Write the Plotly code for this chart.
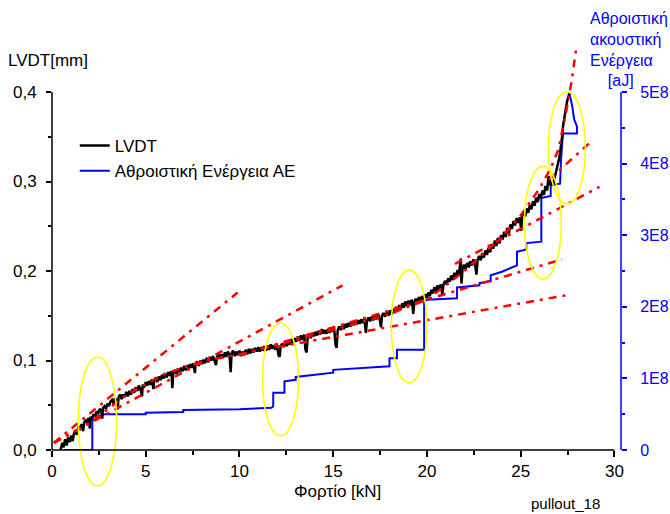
import plotly.graph_objects as go

# ---- LVDT displacement [mm] vs load [kN], (load, displacement) pairs ----
lvdt_points = [
    (0.45, 0.000), (0.55, 0.008), (0.62, 0.003), (0.70, 0.012), (0.78, 0.005), (0.86, 0.014),
    (0.95, 0.009), (1.02, 0.016), (1.10, 0.010), (1.18, 0.019), (1.26, 0.022), (1.33, 0.017),
    (1.41, 0.026), (1.50, 0.024), (1.58, 0.029), (1.66, 0.021), (1.72, 0.031), (1.80, 0.033),
    (1.88, 0.030), (1.95, 0.036), (2.02, 0.024), (2.06, 0.037), (2.14, 0.035), (2.22, 0.040),
    (2.30, 0.038), (2.38, 0.043), (2.46, 0.041), (2.55, 0.046), (2.62, 0.044), (2.68, 0.035),
    (2.72, 0.047), (2.80, 0.049), (2.88, 0.046), (2.96, 0.052),
    (3.04, 0.049), (3.12, 0.054), (3.20, 0.056), (3.28, 0.052), (3.36, 0.058), (3.44, 0.055),
    (3.50, 0.045), (3.55, 0.059), (3.63, 0.062), (3.71, 0.057), (3.80, 0.062), (3.88, 0.059),
    (3.96, 0.065), (4.05, 0.060), (4.13, 0.066), (4.21, 0.062), (4.30, 0.068), (4.38, 0.064),
    (4.46, 0.070), (4.55, 0.066), (4.63, 0.072), (4.72, 0.068), (4.80, 0.060), (4.84, 0.073),
    (4.92, 0.070), (5.00, 0.076), (5.08, 0.072), (5.17, 0.077), (5.25, 0.073), (5.33, 0.079),
    (5.41, 0.068), (5.45, 0.078), (5.54, 0.081), (5.62, 0.076), (5.70, 0.082), (5.79, 0.078),
    (5.87, 0.084), (5.95, 0.080),
    (6.04, 0.085), (6.12, 0.081), (6.20, 0.087), (6.29, 0.083), (6.37, 0.088), (6.42, 0.069),
    (6.47, 0.086), (6.55, 0.089), (6.64, 0.085), (6.72, 0.091), (6.80, 0.087), (6.89, 0.092),
    (6.97, 0.088), (7.05, 0.094), (7.14, 0.089), (7.22, 0.095), (7.30, 0.091), (7.39, 0.096),
    (7.47, 0.092), (7.55, 0.097), (7.62, 0.086), (7.66, 0.096), (7.74, 0.099), (7.83, 0.094),
    (7.91, 0.100), (8.00, 0.096), (8.08, 0.101), (8.16, 0.097), (8.25, 0.103), (8.33, 0.098),
    (8.41, 0.104), (8.50, 0.100), (8.58, 0.105), (8.66, 0.101), (8.75, 0.095), (8.80, 0.104),
    (8.88, 0.107), (8.96, 0.102),
    (9.05, 0.107), (9.13, 0.103), (9.22, 0.109), (9.30, 0.104), (9.38, 0.110), (9.47, 0.106),
    (9.53, 0.087), (9.58, 0.108), (9.66, 0.111), (9.75, 0.105), (9.83, 0.110), (9.91, 0.106),
    (10.00, 0.111), (10.08, 0.105), (10.17, 0.110), (10.25, 0.106), (10.33, 0.112), (10.42, 0.107),
    (10.50, 0.113), (10.58, 0.108), (10.67, 0.113), (10.75, 0.109), (10.83, 0.114), (10.92, 0.110),
    (11.00, 0.115), (11.08, 0.110), (11.17, 0.115), (11.25, 0.111), (11.33, 0.116), (11.42, 0.111),
    (11.50, 0.117), (11.58, 0.112), (11.67, 0.118), (11.75, 0.113), (11.83, 0.117), (11.92, 0.112),
    (12.00, 0.118), (12.08, 0.106), (12.14, 0.104), (12.20, 0.116),
    (12.28, 0.119), (12.37, 0.115), (12.45, 0.121), (12.53, 0.116), (12.62, 0.122), (12.70, 0.118),
    (12.78, 0.124), (12.87, 0.119), (12.95, 0.125), (13.03, 0.121), (13.12, 0.127), (13.20, 0.122),
    (13.28, 0.128), (13.37, 0.123), (13.45, 0.129), (13.52, 0.112), (13.58, 0.109), (13.64, 0.127),
    (13.72, 0.130), (13.80, 0.125), (13.89, 0.131), (13.97, 0.127), (14.05, 0.132), (14.14, 0.128),
    (14.22, 0.133), (14.30, 0.129), (14.39, 0.135), (14.47, 0.130), (14.55, 0.134), (14.64, 0.130),
    (14.72, 0.135), (14.80, 0.131), (14.89, 0.137), (14.97, 0.132),
    (15.05, 0.136), (15.12, 0.118), (15.18, 0.114), (15.24, 0.134), (15.32, 0.138), (15.41, 0.134),
    (15.49, 0.140), (15.57, 0.135), (15.66, 0.141), (15.74, 0.137), (15.82, 0.142), (15.91, 0.138),
    (15.99, 0.143), (16.07, 0.139), (16.16, 0.144), (16.24, 0.140), (16.32, 0.145), (16.41, 0.141),
    (16.49, 0.146), (16.57, 0.142), (16.66, 0.147), (16.74, 0.131), (16.80, 0.144), (16.88, 0.148),
    (16.97, 0.144), (17.05, 0.149), (17.13, 0.145), (17.22, 0.150), (17.30, 0.146), (17.38, 0.152),
    (17.47, 0.147), (17.55, 0.137), (17.60, 0.150), (17.68, 0.153), (17.77, 0.149), (17.85, 0.154),
    (17.94, 0.150),
    (18.02, 0.156), (18.10, 0.151), (18.19, 0.158), (18.27, 0.153), (18.35, 0.160), (18.44, 0.155),
    (18.52, 0.162), (18.60, 0.157), (18.69, 0.164), (18.77, 0.159), (18.85, 0.166), (18.94, 0.161),
    (19.02, 0.167), (19.10, 0.162), (19.19, 0.168), (19.27, 0.152), (19.32, 0.165), (19.40, 0.169),
    (19.49, 0.165), (19.57, 0.171), (19.65, 0.166), (19.74, 0.172), (19.82, 0.168), (19.90, 0.174),
    (19.99, 0.170), (20.07, 0.176), (20.15, 0.172), (20.24, 0.179), (20.32, 0.175), (20.40, 0.182),
    (20.49, 0.177), (20.57, 0.184), (20.65, 0.179), (20.74, 0.185), (20.82, 0.173), (20.88, 0.185),
    (20.96, 0.189),
    (21.05, 0.185), (21.13, 0.192), (21.21, 0.188), (21.30, 0.195), (21.38, 0.190), (21.46, 0.198),
    (21.55, 0.193), (21.63, 0.201), (21.71, 0.196), (21.80, 0.214), (21.84, 0.186), (21.90, 0.203),
    (21.98, 0.207), (22.06, 0.202), (22.15, 0.209), (22.23, 0.204), (22.31, 0.211), (22.40, 0.206),
    (22.48, 0.213), (22.56, 0.208), (22.64, 0.196), (22.70, 0.212), (22.78, 0.217), (22.87, 0.212),
    (22.95, 0.220), (23.03, 0.215), (23.12, 0.223), (23.20, 0.218), (23.28, 0.226), (23.37, 0.221),
    (23.45, 0.230), (23.53, 0.225), (23.62, 0.234), (23.70, 0.228), (23.78, 0.237), (23.87, 0.231),
    (23.95, 0.240),
    (24.03, 0.235), (24.12, 0.244), (24.20, 0.238), (24.28, 0.248), (24.37, 0.242), (24.45, 0.252),
    (24.53, 0.247), (24.62, 0.256), (24.70, 0.251), (24.78, 0.259), (24.87, 0.254), (24.95, 0.260),
    (25.03, 0.245), (25.08, 0.262), (25.16, 0.266), (25.24, 0.261), (25.32, 0.270), (25.41, 0.265),
    (25.49, 0.274), (25.57, 0.269), (25.66, 0.278), (25.74, 0.273), (25.82, 0.282), (25.91, 0.277),
    (25.99, 0.286), (26.07, 0.281), (26.16, 0.290), (26.24, 0.285), (26.32, 0.295), (26.41, 0.290),
    (26.49, 0.306), (26.56, 0.296), (26.64, 0.301), (26.72, 0.295), (26.80, 0.303), (26.88, 0.310),
    (26.96, 0.316), (27.04, 0.325), (27.10, 0.332), (27.16, 0.340), (27.22, 0.352), (27.26, 0.362),
    (27.30, 0.369), (27.36, 0.376), (27.42, 0.383), (27.48, 0.390), (27.55, 0.396), (27.60, 0.399),
]
lvdt_load = [p[0] for p in lvdt_points]
lvdt_mm = [p[1] for p in lvdt_points]

# ---- cumulative acoustic emission energy [aJ] vs load [kN] ----
ae_load = [0.67, 2.15, 2.15, 2.3, 2.35, 2.7, 2.75, 5.0, 5.0, 7.0, 7.0, 10.0, 11.7, 11.8, 11.8,
           12.4, 12.4, 13.0, 13.0, 15.0, 15.0, 18.0, 18.0, 18.4, 18.4, 19.85, 19.85, 20.0, 21.6,
           21.6, 22.8, 22.8, 23.4, 23.4, 24.0, 24.8, 24.8, 25.3, 25.3, 26.1, 26.1, 26.6, 26.6,
           27.1, 27.15, 27.2, 27.25, 28.0, 28.0, 27.85, 27.75, 27.6]
ae_energy = [0.0, 0.0, 0.42e8, 0.42e8, 0.47e8, 0.48e8, 0.50e8, 0.50e8, 0.52e8, 0.53e8, 0.56e8,
             0.57e8, 0.59e8, 0.61e8, 0.80e8, 0.80e8, 0.96e8, 0.98e8, 1.02e8, 1.08e8, 1.12e8,
             1.17e8, 1.28e8, 1.28e8, 1.40e8, 1.40e8, 2.07e8, 2.10e8, 2.12e8, 2.27e8, 2.30e8,
             2.33e8, 2.36e8, 2.44e8, 2.49e8, 2.58e8, 2.77e8, 2.80e8, 2.89e8, 2.91e8, 3.52e8,
             3.55e8, 3.70e8, 3.72e8, 4.05e8, 4.20e8, 4.42e8, 4.42e8, 4.52e8, 4.62e8, 4.80e8, 4.98e8]

# ---- fitted trend curve (dash-dot) ----
trend_load = [0.1, 2.0, 4.0, 6.0, 8.0, 10.0, 12.0, 14.0, 16.0, 18.0, 20.0, 22.0, 24.0, 25.0,
              26.0, 26.6, 27.0, 27.4, 27.7, 27.95]
trend_mm = [0.008, 0.030, 0.062, 0.085, 0.099, 0.107, 0.117, 0.129, 0.140, 0.152, 0.168, 0.200,
            0.238, 0.262, 0.292, 0.315, 0.335, 0.375, 0.410, 0.447]

# ---- tangent lines (start/end load, start/end displacement) ----
tangent_load = [[0.1, 9.9], [0.1, 15.5], [10.0, 27.2], [12.0, 27.7], [21.5, 29.2], [26.5, 28.83]]
tangent_mm = [[0.008, 0.176], [0.008, 0.184], [0.106, 0.213], [0.115, 0.174], [0.208, 0.294],
              [0.302, 0.346]]

# ---- highlighted zones: load range, displacement range ----
zone_load = [[1.4, 3.45], [11.23, 13.15], [18.1, 20.0], [25.2, 27.17], [26.48, 28.45]]
zone_mm = [[-0.040, 0.104], [0.016, 0.142], [0.075, 0.201], [0.191, 0.317], [0.275, 0.400]]

x_ticks = [0, 5, 10, 15, 20, 25, 30]
mm_ticks = [0.0, 0.1, 0.2, 0.3, 0.4]
ae_ticks = [0, 1e8, 2e8, 3e8, 4e8, 5e8]
ae_tick_text = ["0", "1E8", "2E8", "3E8", "4E8", "5E8"]

FONT = "Liberation Sans, Arial, sans-serif"
MM_MAX = 0.447
AE_MAX = MM_MAX * 1.25e9
X_MAX = 30.35
RED = "#ff0000"
BLUE = "#0000ff"
DASHDOT = "8px,6px,3px,6px"

fig = go.Figure()

fig.add_trace(go.Scatter(x=ae_load, y=ae_energy, mode="lines", yaxis="y",
                         line=dict(color=BLUE, width=2), name="Αθροιστική Ενέργεια ΑΕ",
                         legendrank=2))
fig.add_trace(go.Scatter(x=lvdt_load, y=lvdt_mm, mode="lines", yaxis="y2",
                         line=dict(color="black", width=2.5), name="LVDT", legendrank=1))
fig.add_trace(go.Scatter(x=trend_load, y=trend_mm, mode="lines", yaxis="y2", showlegend=False,
                         line=dict(color=RED, width=2.5, dash=DASHDOT)))
for lx, ly in zip(tangent_load, tangent_mm):
    fig.add_trace(go.Scatter(x=lx, y=ly, mode="lines", yaxis="y2", showlegend=False,
                             line=dict(color=RED, width=2.5, dash=DASHDOT)))

shapes = []
# yellow ellipses around the zones of interest
for lx, ly in zip(zone_load, zone_mm):
    shapes.append(dict(type="circle", xref="x", yref="paper",
                       x0=lx[0], x1=lx[1], y0=ly[0] / MM_MAX, y1=ly[1] / MM_MAX,
                       line=dict(color="#ffff00", width=1.6)))
# axis lines
shapes.append(dict(type="line", xref="x", yref="paper", x0=0, x1=30, y0=0, y1=0,
                   line=dict(color="black", width=1.5)))
shapes.append(dict(type="line", xref="paper", yref="y2", x0=0, x1=0, y0=0, y1=0.4,
                   line=dict(color="black", width=1.5)))
shapes.append(dict(type="line", xref="paper", yref="y", x0=1, x1=1, y0=0, y1=5e8,
                   line=dict(color=BLUE, width=1.5)))

annotations = [
    dict(text="LVDT[mm]", xref="paper", yref="paper", x=-0.08, y=0.975, xanchor="left",
         yanchor="middle", showarrow=False, font=dict(size=17, color="black", family=FONT)),
    dict(text="Αθροιστική<br>ακουστική<br>Ενέργεια<br>\u00a0\u00a0\u00a0\u00a0[aJ]",
         xref="paper", yref="paper", x=0.942, y=1.105, xanchor="left", yanchor="top",
         align="left", showarrow=False, font=dict(size=16, color=BLUE, family=FONT)),
    dict(text="Φορτίο [kN]", xref="paper", yref="paper", x=0.501, y=-0.1025, xanchor="center",
         yanchor="middle", showarrow=False, font=dict(size=17, color="black", family=FONT)),
    dict(text="pullout_18", xref="paper", yref="paper", x=0.903, y=-0.133, xanchor="center",
         yanchor="middle", showarrow=False, font=dict(size=15, color="black", family=FONT)),
]

fig.update_layout(
    width=670, height=514,
    margin=dict(l=52, r=49, t=50, b=64, autoexpand=False),
    paper_bgcolor="white", plot_bgcolor="white",
    separators=",.",
    font=dict(family=FONT, size=17, color="black"),
    showlegend=True,
    legend=dict(x=0.04, y=0.805, xanchor="left", yanchor="top", bgcolor="rgba(0,0,0,0)",
                font=dict(size=17, family=FONT), tracegroupgap=0, itemwidth=30),
    xaxis=dict(range=[0, X_MAX], tickvals=x_ticks, ticks="outside", ticklen=6, tickwidth=1.5,
               tickcolor="black", showgrid=False, zeroline=False, showline=False,
               automargin=False,
               minor=dict(tickvals=[2.5, 7.5, 12.5, 17.5, 22.5, 27.5], ticks="outside",
                          ticklen=4, tickwidth=1.5, tickcolor="black"),
               tickfont=dict(size=17, color="black")),
    yaxis=dict(range=[0, AE_MAX], side="right", anchor="x", tickvals=ae_ticks,
               ticktext=ae_tick_text, ticks="outside", ticklen=5, tickwidth=1.5,
               tickcolor=BLUE, showgrid=False, zeroline=False, showline=False,
               automargin=False,
               minor=dict(tickvals=[0.5e8, 1.5e8, 2.5e8, 3.5e8, 4.5e8], ticks="outside",
                          ticklen=3, tickwidth=1.5, tickcolor=BLUE),
               tickfont=dict(size=16, color=BLUE), ticklabelstandoff=10),
    yaxis2=dict(range=[0, MM_MAX], side="left", overlaying="y", anchor="x", tickvals=mm_ticks,
                tickformat=".1f", ticks="outside", ticklen=5, tickwidth=1.5, tickcolor="black",
                showgrid=False, zeroline=False, showline=False, automargin=False,
                minor=dict(tickvals=[0.05, 0.15, 0.25, 0.35], ticks="outside", ticklen=3,
                           tickwidth=1.5, tickcolor="black"),
                tickfont=dict(size=17, color="black"), ticklabelstandoff=6),
    shapes=shapes,
    annotations=annotations,
)

fig.write_html("out.html")
